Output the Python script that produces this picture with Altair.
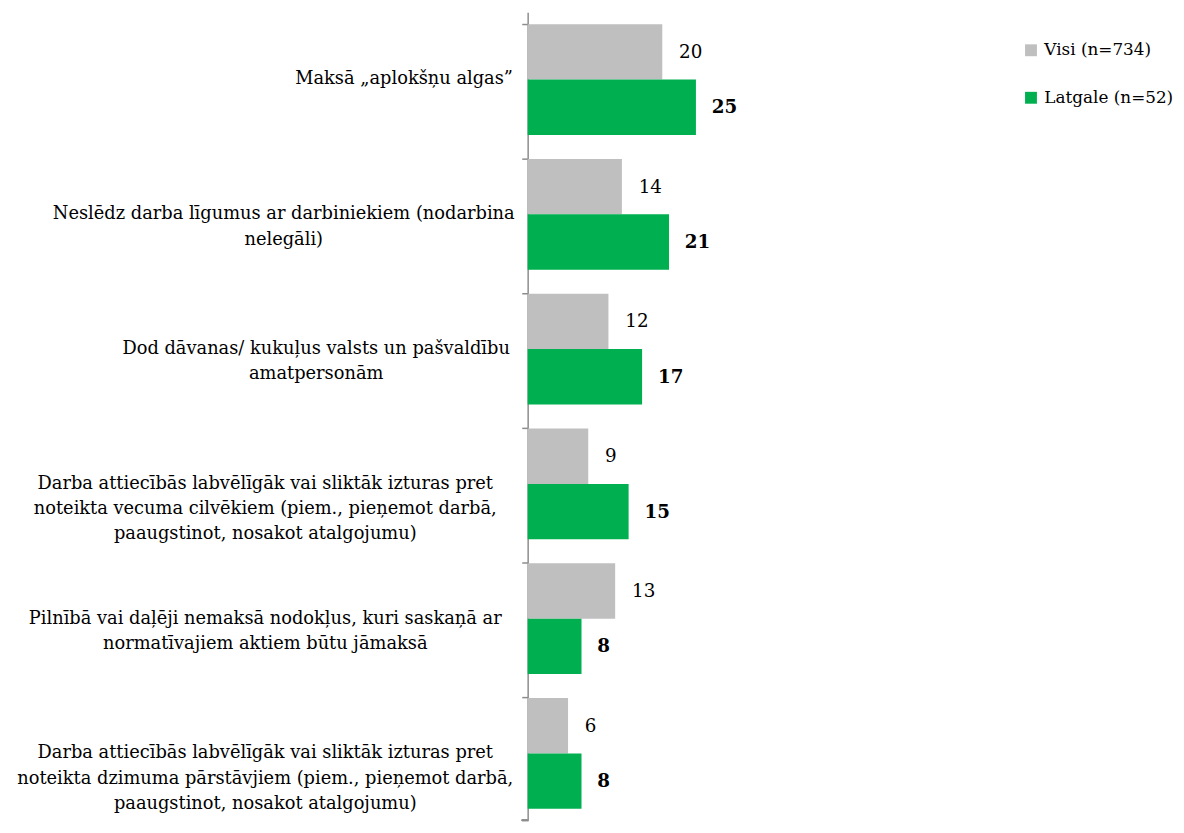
import altair as alt
import pandas as pd

categories = [
    "Maksā „aplokšņu algas”",
    "Neslēdz darba līgumus ar darbiniekiem (nodarbina\nnelegāli)",
    "Dod dāvanas/ kukuļus valsts un pašvaldību\namatpersonām",
    "Darba attiecībās labvēlīgāk vai sliktāk izturas pret\nnoteikta vecuma cilvēkiem (piem., pieņemot darbā,\npaaugstinot, nosakot atalgojumu)",
    "Pilnībā vai daļēji nemaksā nodokļus, kuri saskaņā ar\nnormatīvajiem aktiem būtu jāmaksā",
    "Darba attiecībās labvēlīgāk vai sliktāk izturas pret\nnoteikta dzimuma pārstāvjiem (piem., pieņemot darbā,\npaaugstinot, nosakot atalgojumu)",
]
series_names = ["Visi (n=734)", "Latgale (n=52)"]
visi = [20, 14, 12, 9, 13, 6]
latgale = [25, 21, 17, 15, 8, 8]
colors = ["#BFBFBF", "#00B050"]

FONT = "DejaVu Serif"
FS = 18
FS_VAL = 18.5
FS_LEG = 17
AXIS_COLOR = "#8C8C8C"
W, H = 476, 817

rows = []
for c, v in zip(categories, visi):
    rows.append({"cat": c, "series": series_names[0], "value": v})
for c, v in zip(categories, latgale):
    rows.append({"cat": c, "series": series_names[1], "value": v})
df = pd.DataFrame(rows)

# label block: lines centred on each other, block right edge near the axis
CHAR_W = 9.35
lab = pd.DataFrame({
    "cat": categories,
    "cx": [-22 - max(len(l) for l in c.split("\n")) * CHAR_W / 2 for c in categories],
})

yenc = alt.Y(
    "cat:N", sort=categories, title=None,
    scale=alt.Scale(paddingInner=0.178, paddingOuter=0.089),
    axis=alt.Axis(labels=False, bandPosition=0, tickSize=6, domainColor=AXIS_COLOR,
                  tickColor=AXIS_COLOR, domainWidth=1.5, tickWidth=1.5, grid=False),
)
xenc = alt.X("value:Q", scale=alt.Scale(domain=[0, 70]), axis=None)
yoff = alt.YOffset("series:N", sort=series_names,
                   scale=alt.Scale(paddingInner=0, paddingOuter=0))

bars = alt.Chart(df).mark_bar().encode(
    x=xenc, y=yenc, yOffset=yoff,
    color=alt.Color("series:N", sort=series_names,
                    scale=alt.Scale(domain=series_names, range=colors),
                    legend=alt.Legend(title=None, orient="none", legendX=500, legendY=30,
                                      symbolType="square", symbolSize=144, symbolStrokeWidth=0,
                                      labelFont=FONT, labelFontSize=FS_LEG, rowPadding=30,
                                      labelOffset=5, padding=0)),
)

base_txt = alt.Chart(df).encode(
    x=xenc, y=alt.Y("cat:N", sort=categories), yOffset=yoff, text="value:Q"
)
txt_v = base_txt.transform_filter(alt.datum.series == series_names[0]).mark_text(
    align="left", baseline="middle", dx=17, font=FONT, fontSize=FS_VAL, color="#000000")
txt_l = base_txt.transform_filter(alt.datum.series == series_names[1]).mark_text(
    align="left", baseline="middle", dx=16, font=FONT, fontSize=FS_VAL, fontWeight="bold",
    color="#000000")

labels = alt.Chart(lab).mark_text(
    align="center", baseline="middle", lineBreak="\n", lineHeight=25.5,
    font=FONT, fontSize=FS, color="#000000",
).encode(
    x=alt.X("cx:Q", scale=None), y=alt.Y("cat:N", sort=categories), text="cat:N"
)

bottom_tick = alt.Chart(lab).mark_rule(color=AXIS_COLOR, strokeWidth=1.5).encode(
    x=alt.value(-6), x2=alt.value(0), y=alt.value(H - 0.5)
)

chart = alt.layer(bars, txt_v, txt_l, labels, bottom_tick).properties(
    width=W, height=H,
    autosize=alt.AutoSizeParams(type="none"),
    padding={"left": 525, "top": 0, "right": 179, "bottom": 0},
).configure_view(stroke=None)

chart.save("out.html", embed_options={"renderer": "svg", "actions": False})
